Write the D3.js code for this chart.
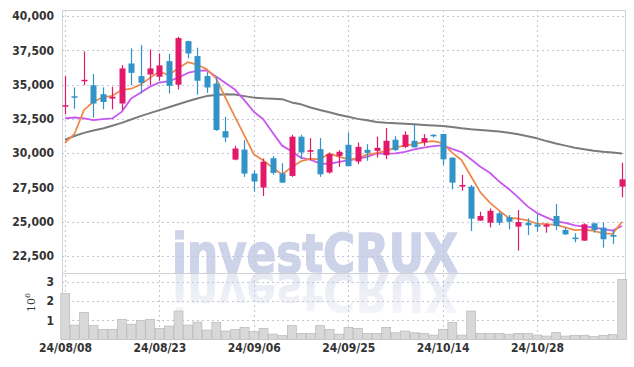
<!DOCTYPE html>
<html>
<head>
<meta charset="utf-8">
<script src="https://cdn.jsdelivr.net/npm/d3@7"></script>
<style>
  body { margin: 0; background: #fff; }
  svg { display: block; }
</style>
</head>
<body>
<div id="chart"></div>
<script>
// trading days shown on the chart
const dates = [
  "24/08/08", "24/08/09", "24/08/12", "24/08/13", "24/08/14", "24/08/16", "24/08/19", "24/08/20", "24/08/21", "24/08/22",
  "24/08/23", "24/08/26", "24/08/27", "24/08/28", "24/08/29", "24/08/30", "24/09/02", "24/09/03", "24/09/04", "24/09/05",
  "24/09/06", "24/09/09", "24/09/10", "24/09/11", "24/09/12", "24/09/13", "24/09/19", "24/09/20", "24/09/23", "24/09/24",
  "24/09/25", "24/09/26", "24/09/27", "24/09/30", "24/10/02", "24/10/04", "24/10/07", "24/10/08", "24/10/10", "24/10/11",
  "24/10/14", "24/10/15", "24/10/16", "24/10/17", "24/10/18", "24/10/21", "24/10/22", "24/10/23", "24/10/24", "24/10/25",
  "24/10/28", "24/10/29", "24/10/30", "24/10/31", "24/11/01", "24/11/04", "24/11/05", "24/11/06", "24/11/07", "24/11/08"
];
const tickDates = ["24/08/08", "24/08/23", "24/09/06", "24/09/25", "24/10/14", "24/10/28"];
const priceTicks = [22500, 25000, 27500, 30000, 32500, 35000, 37500, 40000];
const volumeTicks = [1000000, 2000000, 3000000];

const openP = [
  33400, 34150, 35250, 34950, 34300, 33980, 33620, 36540, 35620, 35740,
  35570, 36710, 34990, 38170, 37080, 35620, 35080, 31600, 29530, 30260,
  28510, 27490, 29630, 28510, 28340, 31200, 30100, 30290, 28590, 29800,
  30610, 29390, 30240, 30170, 29850, 30980, 30460, 30900, 30780, 31340,
  31400, 29670, 27560, 27560, 25080, 24930, 25610, 25320, 24640, 24930,
  24790, 24640, 25420, 24400, 23840, 23620, 24880, 24570, 24030, 27560
];
const highP = [
  35620, 34790, 37420, 35770, 34800, 34840, 36420, 37640, 37880, 37570,
  37270, 37230, 38490, 38200, 37690, 35910, 35570, 32650, 30530, 30950,
  28760, 29610, 29800, 29270, 31340, 31340, 31100, 31100, 30050, 30220,
  31510, 30780, 30660, 31200, 31830, 31240, 31590, 32070, 31390, 31390,
  31400, 29700, 28410, 27680, 25730, 25970, 25730, 25490, 25850, 25250,
  25540, 24880, 26290, 24570, 24150, 24880, 24930, 24930, 24400, 29300
];
const lowP = [
  32840, 33230, 34960, 32600, 33200, 33190, 33180, 34960, 34350, 34960,
  35280, 34350, 34650, 36910, 34260, 34400, 31630, 30800, 29480, 28270,
  27190, 26880, 28410, 27850, 28270, 29560, 29490, 28270, 28510, 29000,
  29050, 29200, 29440, 29680, 29560, 30170, 30370, 30420, 30540, 31150,
  29130, 27360, 27260, 24320, 25080, 24590, 24760, 24440, 22890, 24030,
  24270, 24200, 24400, 24030, 23500, 23620, 24200, 23110, 23380, 26780
];
const closeP = [
  33500, 34100, 35350, 33620, 33730, 34110, 36180, 35860, 35130, 36180,
  36400, 34910, 38390, 37270, 35280, 34790, 31680, 31140, 30340, 28510,
  27930, 29370, 28560, 27850, 31200, 30050, 30220, 28460, 29930, 30100,
  29050, 30460, 30020, 30390, 30900, 30220, 31340, 30420, 31100, 31300,
  29550, 27850, 27680, 25220, 25420, 25800, 24930, 25000, 24980, 24740,
  24640, 24790, 24690, 24080, 23740, 24810, 24400, 23720, 23910, 28090
];
const volume = [
  2390000, 750000, 1410000, 730000, 530000, 530000, 1050000, 800000, 990000, 1050000,
  580000, 700000, 1480000, 750000, 910000, 490000, 890000, 440000, 530000, 630000,
  410000, 580000, 280000, 200000, 730000, 320000, 320000, 730000, 530000, 280000,
  630000, 580000, 320000, 320000, 630000, 350000, 440000, 350000, 320000, 230000,
  530000, 890000, 230000, 1480000, 320000, 320000, 320000, 270000, 320000, 320000,
  230000, 180000, 370000, 180000, 220000, 220000, 150000, 220000, 270000, 3130000
];
const ma5 = [
  30760, 31400, 33140, 33750, 34060, 34180, 34600, 34700, 35000, 35490,
  35950, 35700, 36200, 36630, 36450, 36130, 35480, 34030, 32650, 31290,
  29920, 29460, 28940, 28440, 28980, 29410, 29580, 29560, 29970, 29750,
  29550, 29600, 29910, 30000, 30160, 30400, 30570, 30650, 30800, 30880,
  30740, 30040, 29500, 28320, 27140, 26390, 25810, 25270, 25230, 25090,
  24860, 24830, 24770, 24590, 24390, 24420, 24340, 24150, 24120, 24990
];
const ma10 = [
  32530, 32600, 32530, 32410, 32480, 32530, 33010, 33990, 34400, 34850,
  35150, 35250, 35500, 35850, 36000, 36040, 35590, 35120, 34640, 33870,
  33020, 32470, 31490, 30550, 30140, 29660, 29520, 29250, 29210, 29370,
  29480, 29590, 29730, 29990, 29960, 29980, 30090, 30280, 30400, 30520,
  30570, 30310, 30080, 29560, 29010, 28570, 27930, 27390, 26770, 26120,
  25630, 25320, 25020, 24910, 24740, 24640, 24590, 24460, 24350, 24690
];
const ma60 = [
  30990, 31250, 31480, 31650, 31800, 32000, 32210, 32450, 32700, 32920,
  33140, 33350, 33570, 33780, 33990, 34160, 34240, 34290, 34280, 34160,
  34050, 34000, 33970, 33940, 33700, 33560, 33330, 33150, 32980, 32800,
  32650, 32500, 32400, 32280, 32220, 32180, 32140, 32110, 32060, 32020,
  31980, 31900, 31810, 31740, 31690, 31640, 31580, 31490, 31380, 31230,
  31080, 30880, 30700, 30550, 30400, 30280, 30180, 30100, 30040, 29980
];

const width = 634;
const height = 367;
const plotLeft = 62;
const plotRight = 626;
const plotTop = 10;
const splitY = 273;
const volBottom = 339.5;

const upColor = "#e2186a";
const downColor = "#3193c7";
const gridColor = "#c3c6d6";
const labelFont = "'DejaVu Sans Condensed', 'DejaVu Sans', sans-serif";

const svg = d3.select("#chart").append("svg")
  .attr("width", width)
  .attr("height", height)
  .attr("viewBox", `0 0 ${width} ${height}`);

const x = d3.scalePoint().domain(dates).range([65, 622]);
const step = x.step();
const y = d3.scaleLinear().domain([21260, 40440]).range([splitY, plotTop]);
const yVol = d3.scaleLinear().domain([0, 3460000]).range([volBottom, splitY]);

// watermark + its mirrored reflection
const defs = svg.append("defs");
const fade = defs.append("linearGradient")
  .attr("id", "fade")
  .attr("x1", 0).attr("y1", 0).attr("x2", 0).attr("y2", 1);
fade.append("stop").attr("offset", "0%").attr("stop-color", "#cdd3e6").attr("stop-opacity", 0.15);
fade.append("stop").attr("offset", "100%").attr("stop-color", "#cdd3e6").attr("stop-opacity", 0.6);

svg.append("text")
  .attr("x", 172)
  .attr("y", 272)
  .attr("textLength", 286)
  .attr("lengthAdjust", "spacingAndGlyphs")
  .style("font-family", "'DejaVu Sans', sans-serif")
  .style("font-weight", "bold")
  .style("font-size", "54px")
  .style("fill", "#cdd3e8")
  .style("stroke", "#cdd3e8")
  .style("stroke-width", 1.5)
  .text("investCRUX");

svg.append("text")
  .attr("transform", `translate(0,${2 * splitY}) scale(1,-1)`)
  .attr("x", 172)
  .attr("y", 272)
  .attr("textLength", 286)
  .attr("lengthAdjust", "spacingAndGlyphs")
  .style("font-family", "'DejaVu Sans', sans-serif")
  .style("font-weight", "bold")
  .style("font-size", "54px")
  .style("fill", "url(#fade)")
  .text("investCRUX");

// grid lines
const grid = svg.append("g")
  .attr("stroke", gridColor)
  .attr("stroke-width", 1)
  .attr("stroke-dasharray", "2,3");

grid.selectAll(".hgrid")
  .data(priceTicks)
  .join("line")
  .attr("class", "hgrid")
  .attr("x1", plotLeft)
  .attr("x2", plotRight)
  .attr("y1", d => Math.round(y(d)) + 0.5)
  .attr("y2", d => Math.round(y(d)) + 0.5);

grid.selectAll(".vgrid-line")
  .data(volumeTicks)
  .join("line")
  .attr("class", "vgrid-line")
  .attr("x1", plotLeft)
  .attr("x2", plotRight)
  .attr("y1", d => Math.round(yVol(d)) + 0.5)
  .attr("y2", d => Math.round(yVol(d)) + 0.5);

grid.selectAll(".xgrid")
  .data(tickDates)
  .join("line")
  .attr("class", "xgrid")
  .attr("x1", d => Math.round(x(d)) + 0.5)
  .attr("x2", d => Math.round(x(d)) + 0.5)
  .attr("y1", plotTop)
  .attr("y2", volBottom);

// frame
const frame = svg.append("g").attr("stroke", "#d0d0d8").attr("stroke-width", 1);
frame.append("line").attr("x1", plotLeft).attr("x2", plotRight).attr("y1", plotTop + 0.5).attr("y2", plotTop + 0.5);
frame.append("line").attr("x1", plotLeft).attr("x2", plotRight).attr("y1", splitY + 0.5).attr("y2", splitY + 0.5);
frame.append("line").attr("x1", plotLeft + 0.5).attr("x2", plotLeft + 0.5).attr("y1", plotTop).attr("y2", volBottom);
frame.append("line").attr("x1", plotRight - 0.5).attr("x2", plotRight - 0.5).attr("y1", plotTop).attr("y2", volBottom);

// volume bars
svg.append("g")
  .selectAll("rect")
  .data(volume)
  .join("rect")
  .attr("x", (d, i) => x(dates[i]) - step / 2 + 0.5)
  .attr("width", step - 0.5)
  .attr("y", d => yVol(d))
  .attr("height", d => volBottom - yVol(d))
  .attr("fill", "#d8d8d8")
  .attr("stroke", "#b9b9b9")
  .attr("stroke-width", 0.7);

// moving averages
const line = d3.line()
  .x((d, i) => x(dates[i]))
  .y(d => y(d));

[
  [ma60, "#7b7b7b", 2],
  [ma10, "#c957ef", 1.8],
  [ma5, "#ef8a4c", 1.8]
].forEach(([values, color, w]) => {
  svg.append("path")
    .datum(values)
    .attr("d", line)
    .attr("fill", "none")
    .attr("stroke", color)
    .attr("stroke-width", w)
    .attr("stroke-linejoin", "round");
});

// candles
const candles = svg.append("g")
  .selectAll("g")
  .data(dates)
  .join("g")
  .attr("transform", d => `translate(${Math.round(x(d)) + 0.5},0)`);

candles.append("line")
  .attr("y1", (d, i) => y(highP[i]))
  .attr("y2", (d, i) => y(lowP[i]))
  .attr("stroke", (d, i) => closeP[i] >= openP[i] ? upColor : downColor)
  .attr("stroke-width", 1.2);

candles.append("rect")
  .attr("x", -3)
  .attr("width", 6)
  .attr("y", (d, i) => y(Math.max(openP[i], closeP[i])))
  .attr("height", (d, i) => Math.max(1.5, Math.abs(y(openP[i]) - y(closeP[i]))))
  .attr("fill", (d, i) => closeP[i] >= openP[i] ? upColor : downColor);

// price axis
const yAxis = svg.append("g")
  .attr("transform", `translate(${plotLeft},0)`)
  .call(d3.axisLeft(y).tickValues(priceTicks).tickFormat(d3.format(",")).tickSize(0).tickPadding(8));
yAxis.select(".domain").remove();
yAxis.selectAll("text")
  .style("font-family", labelFont)
  .style("font-size", "12px")
  .style("font-weight", "bold")
  .style("fill", "#333");

// volume axis
const volAxis = svg.append("g")
  .attr("transform", `translate(${plotLeft},0)`)
  .call(d3.axisLeft(yVol).tickValues(volumeTicks).tickFormat(d => d / 1000000).tickSize(0).tickPadding(8));
volAxis.select(".domain").remove();
volAxis.selectAll("text")
  .style("font-family", labelFont)
  .style("font-size", "12px")
  .style("font-weight", "bold")
  .style("fill", "#333");

const unit = svg.append("text")
  .attr("transform", "translate(35,312) rotate(-90)")
  .style("font-family", "'DejaVu Serif', serif")
  .style("font-size", "11px")
  .style("fill", "#333");
unit.append("tspan").text("10");
unit.append("tspan").attr("dy", -5).style("font-size", "8px").text("6");

// date axis
const xAxis = svg.append("g")
  .attr("transform", `translate(0,${volBottom})`)
  .call(d3.axisBottom(x).tickValues(tickDates).tickSize(0).tickPadding(4));
xAxis.select(".domain").remove();
xAxis.selectAll("text")
  .style("font-family", labelFont)
  .style("font-size", "12px")
  .style("font-weight", "bold")
  .style("fill", "#333");
</script>
</body>
</html>
